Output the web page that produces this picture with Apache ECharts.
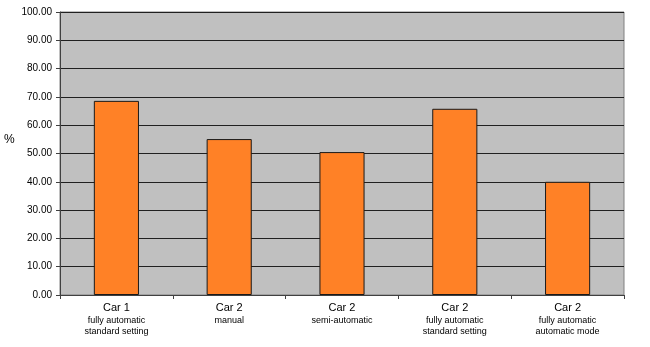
<!DOCTYPE html>
<html>
<head>
<meta charset="utf-8">
<script src="https://cdn.jsdelivr.net/npm/echarts@6/dist/echarts.min.js"></script>
<style>
html,body{margin:0;padding:0;background:#fff;}
#chart{width:650px;height:347px;}
</style>
</head>
<body>
<div id="chart"></div>
<script>
var carNames = ['Car 1', 'Car 2', 'Car 2', 'Car 2', 'Car 2'];
var modeLine1 = ['fully automatic', 'manual', 'semi-automatic', 'fully automatic', 'fully automatic'];
var modeLine2 = ['standard setting', '', '', 'standard setting', 'automatic mode'];
var values = [68.6, 55.1, 50.5, 65.8, 40.0];
var yTicks = [0, 10, 20, 30, 40, 50, 60, 70, 80, 90, 100];

var categories = carNames.map(function (c, i) { return String(i); });

var chart = echarts.init(document.getElementById('chart'), null, {renderer: 'canvas'});
chart.setOption({
  animation: false,
  backgroundColor: '#ffffff',
  textStyle: {fontFamily: 'Liberation Sans, Arial, sans-serif'},
  grid: {left: 60, right: 26, top: 12, bottom: 52, show: true, backgroundColor: '#c0c0c0', borderColor: '#808080', borderWidth: 1},
  graphic: [{
    type: 'text', left: 4, top: 134,
    style: {text: '%', font: '12px "Liberation Sans", Arial, sans-serif', fill: '#000'}
  }],
  xAxis: {
    type: 'category',
    data: categories,
    axisLine: {show: true, lineStyle: {color: '#404040', width: 1}},
    axisTick: {show: true, length: 4, lineStyle: {color: '#404040'}},
    splitLine: {show: false},
    axisLabel: {
      interval: 0,
      margin: 5,
      formatter: function (v) {
        var i = +v;
        var s = '{car|' + carNames[i] + '}\n{m|' + modeLine1[i] + '}';
        if (modeLine2[i]) s += '\n{m|' + modeLine2[i] + '}';
        return s;
      },
      rich: {
        car: {fontSize: 11, lineHeight: 15, color: '#000', fontFamily: 'Liberation Sans, Arial, sans-serif'},
        m: {fontSize: 9, lineHeight: 11, color: '#000', fontFamily: 'Liberation Sans, Arial, sans-serif'}
      }
    }
  },
  yAxis: {
    type: 'value',
    min: yTicks[0],
    max: yTicks[yTicks.length - 1],
    interval: 10,
    axisLine: {show: true, lineStyle: {color: '#404040', width: 1}},
    axisTick: {show: true, length: 4, lineStyle: {color: '#404040'}},
    splitLine: {show: true, lineStyle: {color: '#202020', width: 1}},
    axisLabel: {
      margin: 8,
      fontSize: 10,
      color: '#000',
      formatter: function (v) { return v.toFixed(2); }
    }
  },
  series: [{
    type: 'bar',
    data: values,
    barWidth: '40%',
    itemStyle: {color: '#ff8126', borderColor: '#1a1a1a', borderWidth: 1}
  }]
});
</script>
</body>
</html>
